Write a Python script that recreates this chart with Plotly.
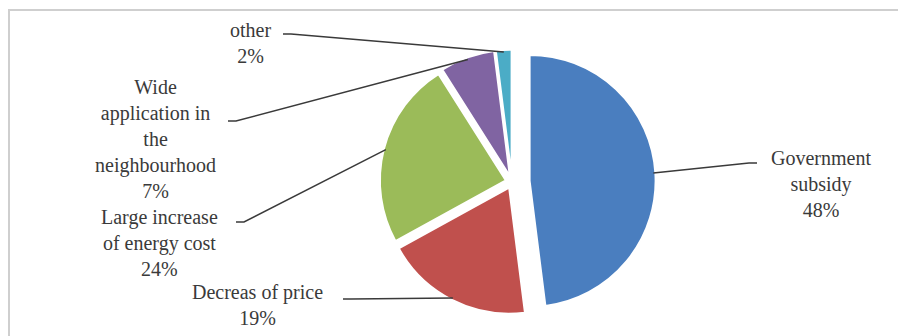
import math
import plotly.graph_objects as go

# ---- data ----
categories = ["Government<br>subsidy", "Decreas of price", "Large increase<br>of energy cost",
              "Wide<br>application in<br>the<br>neighbourhood", "other"]
values = [48, 19, 24, 7, 2]
colors = ["#4A7EBF", "#C0504D", "#9BBB59", "#8064A2", "#4BACC6"]
pulls = [0.14, 0.05, 0.05, 0.05, 0.05]

# ---- layout (pixels) ----
W, H = 898, 336
CX, CY, R = 512, 182, 126
label_pos = [(821, 184), (257, 305), (159, 243), (155, 139), (251, 43)]
leader_start = [(757, 163), (343, 299), (236, 222), (228, 121), (283, 34)]
FONT = dict(family="'Liberation Serif', 'Times New Roman', Times, 'DejaVu Serif', serif", size=20, color="#3a3a3a")

span = 2 * R * (1 + max(pulls))
dom_x = [(CX - span / 2) / W, (CX + span / 2) / W]
dom_y = [1 - (CY + span / 2) / H, 1 - (CY - span / 2) / H]

fig = go.Figure(go.Pie(
    labels=[c.replace("<br>", " ") for c in categories],
    values=values,
    sort=False,
    direction="clockwise",
    rotation=0,
    pull=pulls,
    textinfo="none",
    hoverinfo="label+percent",
    marker=dict(colors=colors, line=dict(color="white", width=2)),
    domain=dict(x=dom_x, y=dom_y),
))

def px(x, y):
    return x / W, 1 - y / H

total = sum(values)
cum = 0
annotations = []
shapes = []
for i, v in enumerate(values):
    mid = (cum + v / 2) / total
    cum += v
    th = 2 * math.pi * mid
    dx, dy = math.sin(th), -math.cos(th)
    rr = R * (1 + pulls[i]) - 2
    ex, ey = CX + dx * rr, CY + dy * rr
    sx, sy = leader_start[i]
    step = 8 if ex > sx else -8
    p1 = px(sx, sy)
    p2 = px(sx + step, sy)
    p3 = px(ex, ey)
    shapes.append(dict(type="path", xref="paper", yref="paper",
                       path=f"M {p1[0]},{p1[1]} L {p2[0]},{p2[1]} L {p3[0]},{p3[1]}",
                       line=dict(color="#3a3a3a", width=1.5)))
    lx, ly = px(*label_pos[i])
    annotations.append(dict(x=lx, y=ly, xref="paper", yref="paper",
                            text=f"{categories[i]}<br>{v}%", showarrow=False,
                            xanchor="center", yanchor="middle", align="center", font=FONT))

# chart frame (top/left visible)
f0 = px(9, 10)
f1 = px(W + 20, H + 20)
shapes.append(dict(type="rect", xref="paper", yref="paper",
                   x0=f0[0], y0=f1[1], x1=f1[0], y1=f0[1],
                   line=dict(color="#cfcfcf", width=2), layer="below"))

fig.update_layout(
    width=W, height=H, autosize=False,
    margin=dict(l=0, r=0, t=0, b=0),
    paper_bgcolor="white", plot_bgcolor="white",
    showlegend=False,
    font=FONT,
    annotations=annotations,
    shapes=shapes,
)

fig.write_html("out.html")
